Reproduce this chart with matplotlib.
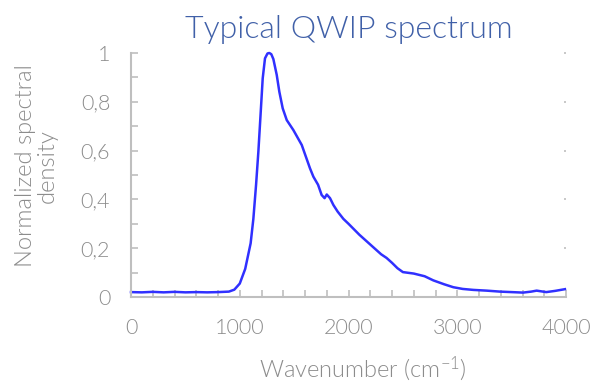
import matplotlib
matplotlib.use("Agg")
import matplotlib.pyplot as plt
from matplotlib.ticker import MultipleLocator, FuncFormatter

# spectrum
wavenumber = [0, 100, 200, 300, 400, 500, 600, 700, 800, 900, 950, 1000, 1050,
              1100, 1125, 1150, 1171, 1193, 1211, 1232, 1255, 1272, 1290, 1309,
              1340, 1364, 1395, 1432, 1493, 1570, 1600, 1646, 1677, 1720, 1753,
              1780, 1800, 1830, 1861, 1900, 1953, 2000, 2100, 2200, 2300, 2350,
              2400, 2450, 2500, 2600, 2700, 2780, 2880, 2964, 3050, 3148, 3270,
              3393, 3500, 3605, 3680, 3730, 3818, 3900, 3990]
density = [0.020, 0.019, 0.021, 0.019, 0.021, 0.019, 0.020, 0.019, 0.020, 0.022,
           0.030, 0.055, 0.115, 0.220, 0.320, 0.460, 0.595, 0.760, 0.896, 0.978,
           0.998, 1.000, 0.995, 0.975, 0.910, 0.841, 0.773, 0.725, 0.684, 0.623,
           0.585, 0.527, 0.493, 0.460, 0.418, 0.405, 0.420, 0.405, 0.377, 0.350,
           0.320, 0.300, 0.255, 0.215, 0.175, 0.160, 0.140, 0.118, 0.102, 0.096,
           0.085, 0.068, 0.052, 0.040, 0.033, 0.029, 0.026, 0.022, 0.020, 0.018,
           0.022, 0.026, 0.020, 0.025, 0.032]

title = "Typical QWIP spectrum"
xlabel = "Wavenumber (cm$^{-1}$)"
ylabel = "Normalized spectral\ndensity"

gray = "#8c8c8c"
spine_gray = "#bfbfbf"

plt.rcParams['font.family'] = ['Lato', 'DejaVu Sans']
plt.rcParams['font.weight'] = 300
plt.rcParams['mathtext.fontset'] = 'custom'
plt.rcParams['mathtext.rm'] = 'Lato:weight=300'
plt.rcParams['mathtext.it'] = 'Lato:weight=300'
plt.rcParams['mathtext.default'] = 'rm'

fig = plt.figure(figsize=(5.92, 3.87), dpi=100)
ax = fig.add_axes([0.2213, 0.2326, 0.7348, 0.6305])

ax.plot(wavenumber, density, color="#3030ff", linewidth=1.8, clip_on=False)

ax.set_xlim(0, 4000)
ax.set_ylim(0, 1)

for s in ['top', 'right']:
    ax.spines[s].set_visible(False)
for s in ['left', 'bottom']:
    ax.spines[s].set_color(spine_gray)
    ax.spines[s].set_linewidth(1.5)

ax.xaxis.set_major_locator(MultipleLocator(1000))
ax.xaxis.set_minor_locator(MultipleLocator(200))
ax.yaxis.set_major_locator(MultipleLocator(0.2))
ax.yaxis.set_minor_locator(MultipleLocator(0.1))
ax.yaxis.set_major_formatter(FuncFormatter(lambda v, p: ("%g" % round(v, 1)).replace(".", ",")))

ax.tick_params(axis='both', which='both', direction='in', color=spine_gray,
               width=1.2, length=5, labelcolor=gray, labelsize=15.5)
ax.tick_params(axis='x', pad=15)
ax.tick_params(axis='y', pad=15)

# little dots on the right edge
ax.tick_params(axis='y', which='major', right=True, labelright=False)
for t in ax.yaxis.get_major_ticks():
    t.tick2line.set_markersize(1.2)
    t.tick2line.set_color("#777777")
ax.yaxis.get_major_ticks()[0].tick2line.set_visible(False)

ax.set_title(title, color="#4060a8", fontsize=23, fontweight=300, pad=11)
ax.set_xlabel(xlabel, color=gray, fontsize=17, fontweight=300)
ax.xaxis.set_label_coords(0.533, -0.235)
ax.set_ylabel(ylabel, color=gray, fontsize=17, fontweight=300, linespacing=1.05)
ax.yaxis.set_label_coords(-0.168, 0.537)

fig.savefig("out.png", dpi=100)
